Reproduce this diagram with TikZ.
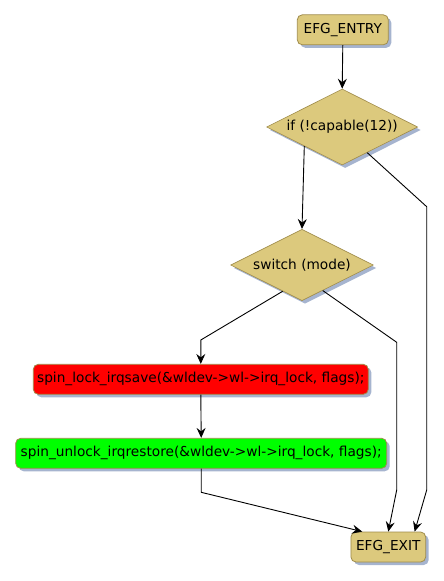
\documentclass[tikz,border=0pt]{standalone}
\usepackage{fontspec}
\setmainfont{DejaVu Sans}
\usetikzlibrary{shapes.geometric,shadows,arrows.meta,calc}
\definecolor{tanfill}{HTML}{DCC97D}
\definecolor{bord}{HTML}{A08C4B}
\definecolor{shd}{HTML}{A6B4CF}
\begin{document}
\begin{tikzpicture}[x=1pt,y=-1pt,
  font=\fontsize{13.7}{16}\selectfont,
  sh/.style={drop shadow={shadow xshift=3pt,shadow yshift=-3pt,fill=shd,opacity=1}},
  actbox/.style={draw=bord,line width=0.8pt,rounded corners=5pt,sh,inner sep=0pt,minimum height=30pt},
  cond/.style={diamond,draw=bord,fill=tanfill,line width=0.6pt,sh,inner sep=0pt,aspect=2},
  flow/.style={draw=black,line width=0.9pt,-{Stealth[length=10pt,width=9pt,inset=3.5pt]}},
  ]
\useasboundingbox (0,0) rectangle (444,581);
\node[actbox,fill=tanfill,minimum width=91pt] (entry) at (342.8,29.8) {EFG\_ENTRY};
\node[cond,minimum width=151pt,minimum height=76pt] (c1) at (342.2,127) {if (!capable(12))};
\node[cond,minimum width=142.6pt,minimum height=71.4pt] (c2) at (302,265) {switch (mode)};
\node[actbox,fill=red,minimum width=335pt] (lock) at (200.8,379.3) {spin\_lock\_irqsave(\&wldev->wl->irq\_lock, flags);};
\node[actbox,fill=green,minimum width=371pt] (unlock) at (201.2,453.3) {spin\_unlock\_irqrestore(\&wldev->wl->irq\_lock, flags);};
\node[actbox,fill=tanfill,minimum width=74.7pt] (exit) at (388.3,547) {EFG\_EXIT};
\coordinate (r1a) at (426.7,206.7);
\coordinate (r1b) at (426.7,490);
\coordinate (l2a) at (200.8,340);
\coordinate (r2a) at (396.7,342.3);
\coordinate (r2b) at (396.7,490);
\coordinate (u1) at (201.2,492.3);
\draw[flow] (entry.south) -- (c1.north);
\draw[flow] ($(c1.west)!0.5!(c1.south)$) -- (c2.north);
\draw[flow] ($(c1.south)!0.33!(c1.east)$) -- (r1a) -- (r1b) -- ($(exit.north east)+(-11.4,0)$);
\draw[flow] ($(c2.west)!0.73!(c2.south)$) -- (l2a) -- (lock.north);
\draw[flow] ($(c2.south)!0.29!(c2.east)$) -- (r2a) -- (r2b) -- (exit.north);
\draw[flow] (lock.south) -- (unlock.north);
\draw[flow] (unlock.south) -- (u1) -- ($(exit.north west)+(11.7,0)$);
\end{tikzpicture}
\end{document}
